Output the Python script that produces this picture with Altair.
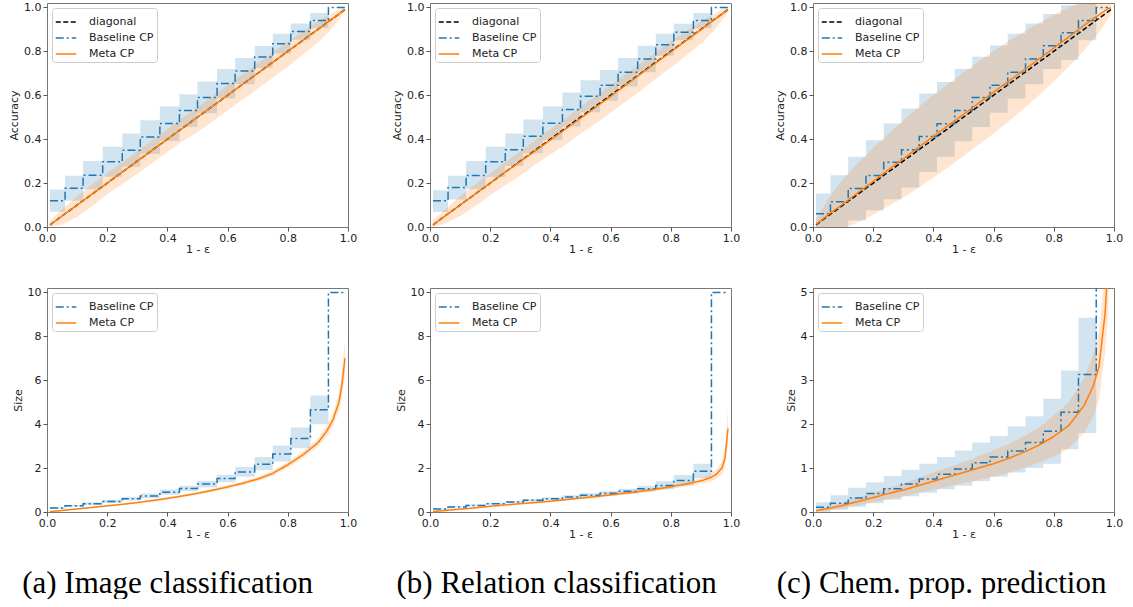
import altair as alt
import pandas as pd

# ---------------- shared x grid for the Meta CP curves ----------------
meta_x = [0.01, 0.05, 0.1, 0.15, 0.2, 0.25, 0.3, 0.35, 0.4, 0.45, 0.5, 0.55,
          0.6, 0.65, 0.7, 0.75, 0.8, 0.85, 0.9, 0.93, 0.95, 0.97, 0.98, 0.99]
diag_x = [0.01, 0.99]
diag_y = [0.01, 0.99]

# step starts for Baseline CP (16 levels, last value repeated at the end point)
steps16_x = [0.01, 0.06, 0.12, 0.185, 0.25, 0.31, 0.375, 0.44, 0.5, 0.565,
             0.625, 0.69, 0.75, 0.81, 0.875, 0.935, 0.99]
# 17 levels (chemical property prediction)
steps17_x = [0.01, 0.058, 0.117, 0.176, 0.235, 0.294, 0.353, 0.412, 0.471,
             0.529, 0.588, 0.647, 0.706, 0.765, 0.824, 0.882, 0.941, 0.98]

# ---------------- (a) Image classification: accuracy ----------------
a_acc_base = [0.12, 0.176, 0.236, 0.297, 0.35, 0.41, 0.471, 0.53, 0.59, 0.653,
              0.71, 0.774, 0.835, 0.89, 0.94, 1.0, 1.0]
a_acc_base_hi = [0.171, 0.233, 0.300, 0.365, 0.426, 0.486, 0.55, 0.605, 0.662,
                 0.72, 0.77, 0.824, 0.88, 0.927, 0.974, 1.0, 1.0]
a_acc_base_lo = [0.07, 0.119, 0.172, 0.229, 0.274, 0.334, 0.392, 0.455, 0.518,
                 0.585, 0.65, 0.724, 0.79, 0.853, 0.906, 1.0, 1.0]
a_acc_meta = [0.01, 0.05, 0.1, 0.15, 0.2, 0.25, 0.3, 0.35, 0.4, 0.45, 0.5, 0.55,
              0.6, 0.65, 0.7, 0.75, 0.8, 0.85, 0.9, 0.93, 0.95, 0.97, 0.98, 0.99]
a_acc_meta_hi = [0.03, 0.08, 0.14, 0.195, 0.245, 0.295, 0.345, 0.395, 0.445, 0.495,
                 0.545, 0.595, 0.645, 0.695, 0.745, 0.795, 0.845, 0.89, 0.935, 0.96,
                 0.975, 0.99, 0.995, 1.0]
a_acc_meta_lo = [0.0, 0.01, 0.046, 0.095, 0.149, 0.195, 0.243, 0.292, 0.342, 0.39,
                 0.433, 0.48, 0.53, 0.58, 0.63, 0.68, 0.73, 0.785, 0.84, 0.88, 0.91,
                 0.945, 0.965, 0.985]

# ---------------- (b) Relation classification: accuracy ----------------
b_acc_base = [0.12, 0.18, 0.235, 0.297, 0.352, 0.413, 0.473, 0.535, 0.595, 0.645,
              0.705, 0.765, 0.83, 0.887, 0.94, 1.0, 1.0]
b_acc_base_hi = [0.167, 0.233, 0.300, 0.365, 0.426, 0.49, 0.55, 0.612, 0.668, 0.715,
                 0.77, 0.825, 0.88, 0.925, 0.975, 1.0, 1.0]
b_acc_base_lo = [0.068, 0.125, 0.172, 0.228, 0.278, 0.336, 0.395, 0.458, 0.522, 0.575,
                 0.64, 0.705, 0.78, 0.85, 0.905, 1.0, 1.0]
b_acc_meta = [0.01, 0.05, 0.1, 0.15, 0.2, 0.25, 0.298, 0.347, 0.396, 0.446, 0.495,
              0.545, 0.595, 0.646, 0.697, 0.747, 0.797, 0.848, 0.898, 0.929, 0.949,
              0.969, 0.98, 0.99]
b_acc_meta_hi = [0.03, 0.08, 0.14, 0.195, 0.245, 0.295, 0.345, 0.395, 0.445, 0.495,
                 0.545, 0.595, 0.645, 0.695, 0.745, 0.795, 0.845, 0.89, 0.935, 0.96,
                 0.975, 0.99, 0.995, 1.0]
b_acc_meta_lo = [0.0, 0.015, 0.05, 0.095, 0.145, 0.19, 0.235, 0.285, 0.33, 0.375,
                 0.425, 0.47, 0.52, 0.57, 0.62, 0.675, 0.725, 0.78, 0.835, 0.875,
                 0.905, 0.94, 0.96, 0.98]

# ---------------- (c) Chem. prop. prediction: accuracy ----------------
c_acc_base = [0.06, 0.115, 0.175, 0.235, 0.295, 0.352, 0.412, 0.47, 0.53, 0.59,
              0.645, 0.705, 0.765, 0.825, 0.885, 0.94, 1.0, 1.0]
c_acc_base_hi = [0.153, 0.236, 0.32, 0.395, 0.471, 0.54, 0.608, 0.66, 0.72, 0.775,
                 0.827, 0.88, 0.927, 0.97, 1.01, 1.05, 1.0, 1.0]
c_acc_base_lo = [-0.03, -0.02, 0.03, 0.076, 0.126, 0.18, 0.25, 0.32, 0.39, 0.455,
                 0.52, 0.585, 0.65, 0.72, 0.76, 0.85, 1.0, 1.0]
c_acc_meta = [0.012, 0.055, 0.105, 0.157, 0.208, 0.26, 0.31, 0.362, 0.413, 0.463,
              0.513, 0.564, 0.614, 0.664, 0.714, 0.764, 0.815, 0.866, 0.918, 0.948,
              0.966, 0.985, 0.993, 0.998]
c_acc_meta_hi = [0.032, 0.125, 0.22, 0.292, 0.36, 0.425, 0.485, 0.545, 0.601, 0.653,
                 0.703, 0.754, 0.802, 0.847, 0.889, 0.929, 0.967, 1.001, 1.033, 1.043,
                 1.046, 1.045, 1.038, 1.028]
c_acc_meta_lo = [-0.008, -0.015, -0.01, 0.022, 0.056, 0.095, 0.135, 0.179, 0.225,
                 0.273, 0.323, 0.374, 0.426, 0.481, 0.539, 0.599, 0.663, 0.731, 0.803,
                 0.853, 0.886, 0.925, 0.948, 0.968]

# ---------------- (a) set size ----------------
a_size_base = [0.18, 0.28, 0.38, 0.48, 0.6, 0.73, 0.9, 1.07, 1.27, 1.52, 1.82, 2.18,
               2.64, 3.35, 4.66, 10.0, 10.0]
a_size_base_hi = [0.22, 0.33, 0.44, 0.56, 0.69, 0.84, 1.02, 1.2, 1.42, 1.7, 2.05, 2.5,
                  3.03, 3.85, 5.3, 10.0, 10.0]
a_size_base_lo = [0.14, 0.23, 0.32, 0.41, 0.52, 0.64, 0.78, 0.94, 1.12, 1.35, 1.6, 1.9,
                  2.3, 2.9, 4.0, 10.0, 10.0]
a_size_meta = [0.02, 0.07, 0.14, 0.21, 0.28, 0.35, 0.43, 0.52, 0.62, 0.73, 0.85, 0.99,
               1.14, 1.31, 1.5, 1.76, 2.15, 2.6, 3.15, 3.7, 4.2, 5.0, 5.8, 7.0]
a_size_meta_hi = [0.03, 0.09, 0.16, 0.24, 0.31, 0.39, 0.47, 0.57, 0.67, 0.79, 0.91,
                  1.06, 1.22, 1.4, 1.6, 1.88, 2.28, 2.75, 3.32, 3.95, 4.5, 5.4, 6.4, 7.8]
a_size_meta_lo = [0.01, 0.05, 0.12, 0.18, 0.25, 0.31, 0.39, 0.47, 0.57, 0.67, 0.79,
                  0.92, 1.06, 1.22, 1.4, 1.64, 2.02, 2.45, 2.98, 3.45, 3.9, 4.6, 5.3, 6.2]

# ---------------- (b) set size ----------------
b_size_base = [0.14, 0.23, 0.3, 0.38, 0.45, 0.53, 0.6, 0.68, 0.76, 0.85, 0.94, 1.06,
               1.21, 1.43, 1.85, 10.0, 10.0]
b_size_base_hi = [0.17, 0.26, 0.34, 0.42, 0.5, 0.59, 0.67, 0.76, 0.85, 0.95, 1.06, 1.2,
                  1.4, 1.68, 2.2, 10.0, 10.0]
b_size_base_lo = [0.11, 0.2, 0.26, 0.34, 0.4, 0.47, 0.53, 0.6, 0.67, 0.75, 0.83, 0.93,
                  1.04, 1.2, 1.55, 10.0, 10.0]
b_size_meta = [0.02, 0.07, 0.13, 0.19, 0.26, 0.32, 0.38, 0.43, 0.49, 0.56, 0.63, 0.7,
               0.78, 0.86, 0.94, 1.04, 1.15, 1.27, 1.42, 1.55, 1.7, 2.0, 2.45, 3.8]
b_size_meta_hi = [0.04, 0.09, 0.15, 0.21, 0.28, 0.35, 0.41, 0.47, 0.53, 0.6, 0.68,
                  0.76, 0.84, 0.93, 1.02, 1.12, 1.24, 1.38, 1.55, 1.72, 1.92, 2.3, 2.85,
                  4.7]
b_size_meta_lo = [0.0, 0.05, 0.11, 0.17, 0.24, 0.29, 0.35, 0.39, 0.45, 0.52, 0.58,
                  0.64, 0.72, 0.79, 0.86, 0.96, 1.06, 1.16, 1.29, 1.38, 1.5, 1.72, 2.05,
                  3.0]

# ---------------- (c) set size ----------------
c_size_base = [0.11, 0.2, 0.32, 0.42, 0.53, 0.64, 0.75, 0.86, 0.98, 1.12, 1.25, 1.39,
               1.58, 1.84, 2.27, 3.13, 10.0, 10.0]
c_size_base_hi = [0.22, 0.38, 0.55, 0.68, 0.82, 0.96, 1.1, 1.25, 1.4, 1.58, 1.73,
                  1.95, 2.18, 2.58, 3.22, 4.42, 10.0, 10.0]
c_size_base_lo = [0.0, 0.05, 0.12, 0.2, 0.28, 0.36, 0.44, 0.52, 0.6, 0.7, 0.8, 0.9,
                  1.0, 1.1, 1.43, 1.8, 10.0, 10.0]
c_size_meta = [0.03, 0.08, 0.15, 0.24, 0.33, 0.42, 0.5, 0.6, 0.7, 0.8, 0.9, 1.0, 1.1,
               1.22, 1.36, 1.52, 1.72, 1.97, 2.42, 2.85, 3.3, 4.5, 5.6, 8.0]
c_size_meta_hi = [0.05, 0.13, 0.22, 0.33, 0.44, 0.55, 0.65, 0.77, 0.9, 1.02, 1.14,
                  1.27, 1.4, 1.55, 1.72, 1.92, 2.2, 2.5, 3.05, 3.55, 4.1, 5.5, 6.8, 9.5]
c_size_meta_lo = [0.01, 0.03, 0.08, 0.15, 0.22, 0.29, 0.35, 0.43, 0.5, 0.58, 0.66,
                  0.73, 0.8, 0.89, 1.0, 1.12, 1.26, 1.45, 1.8, 2.15, 2.55, 3.6, 4.5, 6.5]

captions = ["(a) Image classification", "(b) Relation classification",
            "(c) Chem. prop. prediction"]
caption_dx = [-15, -9, -7]

BLUE = "#1f77b4"
ORANGE = "#ff7f0e"
PW, PH = 301, 224


def panel(base_x, base, base_lo, base_hi, meta, meta_lo, meta_hi,
          ydomain, yticks, ytitle, yfmt, with_diag):
    names = (["diagonal"] if with_diag else []) + ["Baseline CP", "Meta CP"]
    colors = (["black"] if with_diag else []) + [BLUE, ORANGE]
    dashes = ([[5, 2.5]] if with_diag else []) + [[8, 3, 2, 3], [1, 0]]
    color = alt.Color("series:N", scale=alt.Scale(domain=names, range=colors),
                      legend=alt.Legend(orient="top-left", title=None, symbolType="stroke",
                                        symbolStrokeWidth=1.5, symbolSize=420,
                                        labelFontSize=11, labelColor="#222",
                                        labelFont="DejaVu Sans", strokeColor="#cccccc",
                                        fillColor="white", padding=3, cornerRadius=3,
                                        rowPadding=-2, offset=5, labelOffset=12))
    dash = alt.StrokeDash("series:N", scale=alt.Scale(domain=names, range=dashes),
                          legend=None)
    xenc = alt.X("x:Q", scale=alt.Scale(domain=[0, 1], nice=False),
                 axis=alt.Axis(values=[0, 0.2, 0.4, 0.6, 0.8, 1.0], format=".1f",
                               title="1 - ε", labelFlush=False))
    ysc = alt.Scale(domain=ydomain, nice=False, zero=False)
    yax = alt.Axis(values=yticks, format=yfmt, title=ytitle, labelFlush=False)

    bdf = pd.DataFrame({"x": base_x, "y": base, "lo": base_lo, "hi": base_hi,
                        "series": "Baseline CP"})
    mdf = pd.DataFrame({"x": meta_x, "y": meta, "lo": meta_lo, "hi": meta_hi,
                        "series": "Meta CP"})

    layers = [
        alt.Chart(bdf).mark_area(interpolate="step-after", color=BLUE, opacity=0.2,
                                 clip=True).encode(
            x=xenc, y=alt.Y("lo:Q", scale=ysc, axis=yax), y2="hi:Q"),
        alt.Chart(mdf).mark_area(color=ORANGE, opacity=0.2, clip=True).encode(
            x=xenc, y=alt.Y("lo:Q", scale=ysc, axis=yax), y2="hi:Q"),
    ]
    if with_diag:
        ddf = pd.DataFrame({"x": diag_x, "y": diag_y, "series": "diagonal"})
        layers.append(alt.Chart(ddf).mark_line(strokeWidth=1.5, clip=True).encode(
            x=xenc, y=alt.Y("y:Q", scale=ysc, axis=yax), color=color, strokeDash=dash))
    layers.append(alt.Chart(bdf).mark_line(interpolate="step-after", strokeWidth=1.5,
                                           clip=True).encode(
        x=xenc, y=alt.Y("y:Q", scale=ysc, axis=yax), color=color, strokeDash=dash))
    layers.append(alt.Chart(mdf).mark_line(strokeWidth=1.5, clip=True).encode(
        x=xenc, y=alt.Y("y:Q", scale=ysc, axis=yax), color=color, strokeDash=dash))
    return alt.layer(*layers).properties(width=PW, height=PH)


acc_ticks = [0, 0.2, 0.4, 0.6, 0.8, 1.0]
cols = []
specs = [
    (steps16_x, a_acc_base, a_acc_base_lo, a_acc_base_hi, a_acc_meta, a_acc_meta_lo, a_acc_meta_hi,
     steps16_x, a_size_base, a_size_base_lo, a_size_base_hi, a_size_meta, a_size_meta_lo, a_size_meta_hi,
     [0, 10.2], [0, 2, 4, 6, 8, 10]),
    (steps16_x, b_acc_base, b_acc_base_lo, b_acc_base_hi, b_acc_meta, b_acc_meta_lo, b_acc_meta_hi,
     steps16_x, b_size_base, b_size_base_lo, b_size_base_hi, b_size_meta, b_size_meta_lo, b_size_meta_hi,
     [0, 10.2], [0, 2, 4, 6, 8, 10]),
    (steps17_x, c_acc_base, c_acc_base_lo, c_acc_base_hi, c_acc_meta, c_acc_meta_lo, c_acc_meta_hi,
     steps17_x, c_size_base, c_size_base_lo, c_size_base_hi, c_size_meta, c_size_meta_lo, c_size_meta_hi,
     [0, 5.1], [0, 1, 2, 3, 4, 5]),
]
for cap, dx, s in zip(captions, caption_dx, specs):
    top = panel(s[0], s[1], s[2], s[3], s[4], s[5], s[6], [0, 1.02], acc_ticks,
                "Accuracy", ".1f", True)
    bot = panel(s[7], s[8], s[9], s[10], s[11], s[12], s[13], s[14], s[15],
                "Size", "d", False)
    col = alt.vconcat(top, bot, spacing=30, title=alt.TitleParams(
        cap, orient="bottom", anchor="middle", font="Liberation Serif", fontSize=31,
        fontWeight="normal", color="black", offset=29, dx=dx)).resolve_scale(
        color="independent", strokeDash="independent")
    cols.append(col)

chart = alt.hconcat(*cols, spacing=33).resolve_scale(
    color="independent", strokeDash="independent"
).properties(
    padding={"left": 8, "top": 0, "right": 4, "bottom": 0}
).configure_view(stroke="#777", strokeWidth=1).configure_axis(
    grid=False, domain=False, tickColor="#555", tickSize=4, labelFontSize=11,
    titleFontSize=11, labelFont="DejaVu Sans", titleFont="DejaVu Sans",
    labelColor="#222", titleColor="#222", titleFontWeight="normal"
).configure_axisX(labelPadding=1, titlePadding=0
).configure_axisY(labelPadding=2, titlePadding=4
).configure_title(font="Liberation Serif")

chart.save("out.html", embed_options={"renderer": "svg", "actions": False})
